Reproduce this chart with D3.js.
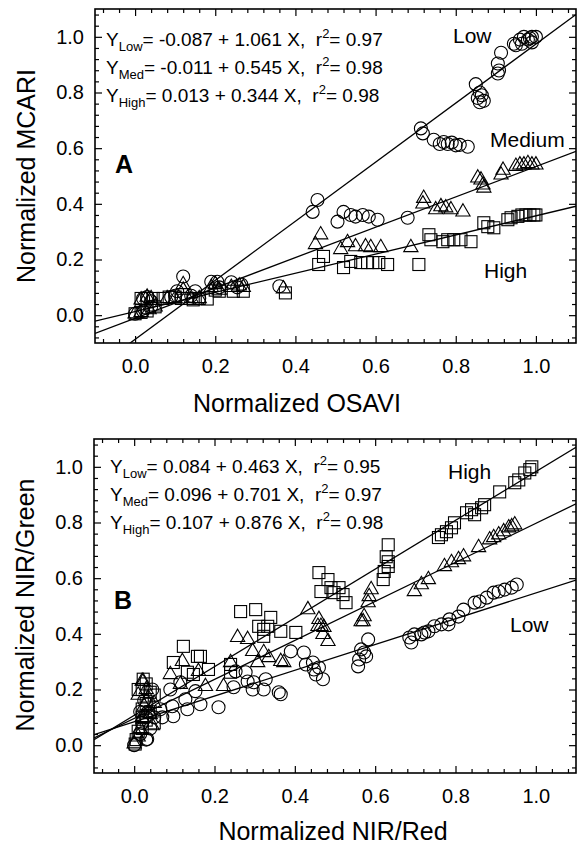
<!DOCTYPE html>
<html>
<head>
<meta charset="utf-8">
<script src="https://cdn.jsdelivr.net/npm/d3@7"></script>
<style>
  body { margin: 0; background: #fff; }
  svg text { font-family: "Liberation Sans", Arial, Helvetica, sans-serif; fill: #000; white-space: pre; }
</style>
</head>
<body>
<svg id="chart" width="580" height="848"></svg>
<script>
// ---- data ----
const majorTicks = [0, 0.2, 0.4, 0.6, 0.8, 1.0];
const groupNames = ["Low", "Med", "High"];

// panel A: normalized OSAVI vs normalized MCARI
const aIntercepts = [-0.087, -0.011, 0.013];
const aSlopes = [1.061, 0.545, 0.344];
const aR2 = [0.97, 0.98, 0.98];

const aLow = [
  [0.0,0.005],[0.02,0.015],[0.04,0.03],[0.02,0.06],[0.03,0.065],[0.04,0.05],[0.09,0.065],[0.1,0.07],
  [0.105,0.086],[0.12,0.139],[0.15,0.086],[0.14,0.07],[0.16,0.06],[0.19,0.12],[0.205,0.12],[0.21,0.1],
  [0.24,0.118],[0.265,0.11],[0.255,0.1],[0.36,0.104],
  [0.455,0.414],[0.443,0.371],[0.505,0.336],[0.52,0.371],[0.538,0.36],[0.55,0.354],[0.568,0.36],
  [0.583,0.354],[0.605,0.343],[0.68,0.35],
  [0.713,0.671],[0.718,0.653],[0.745,0.63],[0.76,0.615],[0.77,0.622],[0.78,0.615],[0.79,0.62],
  [0.80,0.61],[0.81,0.612],[0.83,0.605],
  [0.85,0.83],[0.86,0.80],[0.855,0.78],[0.865,0.79],[0.87,0.77],[0.86,0.765],
  [0.913,0.943],[0.905,0.904],[0.908,0.879],[0.905,0.868],
  [0.945,0.975],[0.95,0.97],[0.96,0.99],[0.965,0.975],[0.97,1.0],[0.98,0.99],[0.985,0.995],
  [0.99,1.0],[1.0,1.0],[0.99,0.98]
];
const aMed = [
  [0.015,0.055],[0.03,0.065],[0.04,0.06],[0.0,0.005],[0.015,0.01],[0.035,0.02],[0.05,0.03],[0.08,0.06],
  [0.1,0.06],[0.12,0.11],[0.12,0.09],[0.14,0.06],[0.16,0.06],[0.19,0.1],[0.2,0.11],[0.21,0.09],
  [0.24,0.1],[0.26,0.105],[0.27,0.1],[0.37,0.095],
  [0.463,0.289],[0.45,0.254],[0.53,0.261],[0.513,0.236],[0.55,0.246],[0.575,0.246],[0.588,0.243],
  [0.613,0.243],[0.688,0.243],
  [0.72,0.42],[0.718,0.40],[0.75,0.379],[0.763,0.39],[0.775,0.386],[0.788,0.379],[0.818,0.371],
  [0.855,0.493],[0.868,0.468],[0.87,0.457],[0.863,0.486],[0.918,0.521],[0.913,0.504],
  [0.95,0.535],[0.96,0.54],[0.97,0.54],[0.98,0.545],[0.99,0.54],[1.0,0.54]
];
const aHigh = [
  [0.015,0.06],[0.03,0.06],[0.045,0.06],[0.0,0.005],[0.015,0.01],[0.03,0.015],[0.05,0.03],
  [0.07,0.06],[0.085,0.065],[0.1,0.065],[0.115,0.06],[0.13,0.06],[0.145,0.055],[0.16,0.06],
  [0.18,0.058],[0.2,0.09],[0.21,0.086],[0.245,0.086],[0.27,0.086],[0.375,0.08],
  [0.458,0.182],[0.47,0.211],[0.52,0.171],[0.538,0.193],[0.563,0.189],[0.58,0.189],[0.593,0.189],
  [0.608,0.189],[0.63,0.182],[0.708,0.182],
  [0.733,0.289],[0.738,0.271],[0.768,0.264],[0.78,0.271],[0.795,0.271],[0.813,0.271],[0.838,0.264],
  [0.87,0.332],[0.88,0.318],[0.895,0.314],[0.93,0.343],[0.938,0.35],
  [0.955,0.355],[0.965,0.36],[0.975,0.36],[0.985,0.36],[0.995,0.36],[1.0,0.36]
];

// panel B: normalized NIR/Red vs normalized NIR/Green
const bIntercepts = [0.084, 0.096, 0.107];
const bSlopes = [0.463, 0.701, 0.876];
const bR2 = [0.95, 0.97, 0.98];

const bLow = [
  [0.0,0.0],[0.015,0.04],[0.03,0.02],[0.02,0.08],[0.035,0.12],[0.025,0.16],[0.04,0.06],[0.05,0.1],
  [0.045,0.2],[0.03,0.1],[0.015,0.12],[0.0325,0.022],
  [0.065,0.129],[0.07,0.1],[0.0975,0.104],[0.095,0.14],[0.09,0.2],[0.115,0.226],[0.1275,0.165],
  [0.1325,0.129],[0.1525,0.194],[0.165,0.147],[0.21,0.136],[0.2475,0.208],[0.2525,0.265],
  [0.2775,0.262],[0.2825,0.229],[0.2975,0.226],[0.295,0.2],[0.3225,0.2],[0.3275,0.237],[0.36,0.19],
  [0.365,0.183],[0.39,0.337],
  [0.4225,0.333],[0.4275,0.29],[0.445,0.297],[0.4475,0.272],[0.46,0.279],[0.4525,0.254],[0.47,0.237],
  [0.5825,0.38],[0.565,0.344],[0.5725,0.333],[0.56,0.308],[0.5575,0.283],[0.5775,0.319],
  [0.685,0.387],[0.69,0.369],[0.6975,0.398],[0.715,0.398],[0.7225,0.405],[0.7325,0.409],
  [0.7475,0.427],[0.765,0.434],[0.7825,0.434],[0.785,0.452],[0.8075,0.462],[0.82,0.487],
  [0.8475,0.512],[0.86,0.516],[0.8775,0.53],[0.895,0.548],[0.9075,0.552],[0.9225,0.559],
  [0.94,0.566],[0.9525,0.577]
];
const bMed = [
  [0.0,0.005],[0.01,0.03],[0.015,0.06],[0.02,0.1],[0.025,0.14],[0.03,0.2],[0.02,0.23],[0.035,0.17],
  [0.04,0.11],[0.045,0.07],[0.05,0.15],[0.01,0.18],[0.0225,0.229],
  [0.09,0.254],[0.12,0.301],[0.115,0.219],[0.16,0.265],[0.1775,0.211],[0.2225,0.211],[0.24,0.297],
  [0.2575,0.387],[0.2825,0.38],[0.295,0.337],[0.3075,0.297],[0.3225,0.333],[0.335,0.315],
  [0.3725,0.297],[0.365,0.301],
  [0.4325,0.487],[0.46,0.452],[0.465,0.427],[0.4725,0.423],[0.4575,0.427],[0.47,0.398],[0.4825,0.373],
  [0.59,0.559],[0.585,0.534],[0.5825,0.512],[0.5725,0.462],[0.57,0.444],[0.565,0.444],
  [0.6975,0.552],[0.715,0.577],[0.7325,0.595],[0.7725,0.642],[0.79,0.656],[0.8075,0.667],
  [0.82,0.677],[0.8575,0.71],[0.885,0.738],[0.895,0.746],[0.9075,0.756],[0.92,0.767],
  [0.9325,0.781],[0.94,0.785],[0.9475,0.792]
];
const bHigh = [
  [0.0025,0.004],[0.005,0.02],[0.01,0.05],[0.02,0.1],[0.01,0.2],[0.02,0.2],[0.03,0.22],[0.04,0.19],
  [0.05,0.18],[0.03,0.15],[0.02,0.13],[0.04,0.12],[0.03,0.09],[0.05,0.08],[0.02,0.06],[0.0225,0.237],
  [0.0975,0.297],[0.1225,0.355],[0.1325,0.262],[0.1475,0.254],[0.1575,0.319],[0.165,0.319],
  [0.185,0.272],[0.24,0.29],[0.24,0.262],
  [0.265,0.48],[0.3025,0.487],[0.34,0.459],[0.31,0.427],[0.3225,0.416],[0.3325,0.427],
  [0.3225,0.391],[0.365,0.409],[0.4025,0.405],
  [0.46,0.62],[0.4825,0.595],[0.465,0.552],[0.49,0.566],[0.4975,0.548],[0.51,0.566],[0.52,0.541],
  [0.5275,0.512],
  [0.6325,0.72],[0.6275,0.677],[0.6325,0.659],[0.6325,0.642],[0.6225,0.624],[0.62,0.595],
  [0.7575,0.746],[0.765,0.756],[0.7775,0.767],[0.79,0.781],[0.7975,0.799],[0.8275,0.835],
  [0.8475,0.828],[0.84,0.846],[0.865,0.853],[0.8725,0.864],[0.91,0.91],[0.9475,0.943],
  [0.9575,0.953],[0.9725,0.978],[0.985,0.99],[0.99,1.0]
];

// ---- drawing ----
const svg = d3.select("#chart");
const domain = [-0.1, 1.1];
const minorTicks = d3.range(-8, 111, 4).map(v => v / 100).filter(v => majorTicks.indexOf(v) < 0);

function drawPanel(cfg) {
  const x = d3.scaleLinear().domain(domain).range([cfg.left, cfg.right]);
  const y = d3.scaleLinear().domain(domain).range([cfg.bottom, cfg.top]);
  const g = svg.append("g");

  const clipId = "clip" + cfg.tag;
  svg.append("clipPath").attr("id", clipId)
     .append("rect")
     .attr("x", cfg.left).attr("y", cfg.top)
     .attr("width", cfg.right - cfg.left).attr("height", cfg.bottom - cfg.top);

  // axes with inward ticks on all four sides
  const sides = [
    { axis: d3.axisBottom(x), t: `translate(0,${cfg.bottom})`, pad: 16 },
    { axis: d3.axisLeft(y), t: `translate(${cfg.left},0)`, pad: 11 },
    { axis: d3.axisTop(x), t: `translate(0,${cfg.top})`, pad: 0 },
    { axis: d3.axisRight(y), t: `translate(${cfg.right},0)`, pad: 0 }
  ];
  sides.forEach(s => {
    const major = s.axis.tickValues(majorTicks).tickSize(-7).tickSizeOuter(0).tickPadding(s.pad)
                    .tickFormat(s.pad ? d3.format(".1f") : "");
    const ga = g.append("g").attr("transform", s.t).call(major);
    ga.select(".domain").remove();
    ga.selectAll("text").style("font-size", "20px").attr("fill", "#000");
    ga.selectAll("line").attr("stroke", "#000").attr("stroke-width", 1.2);

    const minor = s.axis.tickValues(minorTicks).tickSize(-4).tickFormat("");
    const gm = g.append("g").attr("transform", s.t).call(minor);
    gm.select(".domain").remove();
    gm.selectAll("line").attr("stroke", "#000").attr("stroke-width", 1.2);
  });

  g.append("rect")
   .attr("x", cfg.left).attr("y", cfg.top)
   .attr("width", cfg.right - cfg.left).attr("height", cfg.bottom - cfg.top)
   .attr("fill", "none").attr("stroke", "#000").attr("stroke-width", 1.6);

  // regression lines
  const line = d3.line().x(d => x(d[0])).y(d => y(d[1]));
  const lines = g.append("g").attr("clip-path", `url(#${clipId})`);
  cfg.intercepts.forEach((b, i) => {
    const m = cfg.slopes[i];
    lines.append("path")
         .attr("d", line(domain.map(v => [v, b + m * v])))
         .attr("fill", "none").attr("stroke", "#000").attr("stroke-width", 1.3);
  });

  // markers
  const marks = g.append("g").attr("clip-path", `url(#${clipId})`)
                 .attr("fill", "none").attr("stroke", "#000").attr("stroke-width", 1.1);
  marks.selectAll(".low").data(cfg.low).enter().append("circle")
       .attr("cx", d => x(d[0])).attr("cy", d => y(d[1])).attr("r", 6.5);
  marks.selectAll(".med").data(cfg.med).enter().append("path")
       .attr("d", d3.symbol(d3.symbolTriangle, 88))
       .attr("transform", d => `translate(${x(d[0])},${y(d[1])})`);
  marks.selectAll(".high").data(cfg.high).enter().append("rect")
       .attr("x", d => x(d[0]) - 6).attr("y", d => y(d[1]) - 6)
       .attr("width", 12).attr("height", 12);

  // equations
  cfg.intercepts.forEach((b, i) => {
    const t = g.append("text")
               .attr("x", cfg.eqX).attr("y", cfg.eqY + i * 28)
               .style("font-size", "19px");
    const sign = b < 0 ? "-" : "";
    t.append("tspan").text("Y");
    t.append("tspan").text(groupNames[i]).style("font-size", "13px").attr("dy", 5);
    t.append("tspan").text(`= ${sign}${Math.abs(b).toFixed(3)} + ${cfg.slopes[i].toFixed(3)} X,  r`).attr("dy", -5);
    t.append("tspan").text("2").style("font-size", "13px").attr("dy", -8);
    t.append("tspan").text(`= ${cfg.r2[i].toFixed(2)}`).attr("dy", 8);
  });

  // group labels and panel letter
  cfg.tags.forEach(l => {
    g.append("text").attr("x", l[1]).attr("y", l[2]).style("font-size", "21px").text(l[0]);
  });
  g.append("text").attr("x", cfg.left + 20).attr("y", cfg.letterY)
   .style("font-size", "25px").style("font-weight", "bold").text(cfg.tag);

  // axis titles
  g.append("text").attr("x", cfg.xTitle[0]).attr("y", cfg.xTitle[1])
   .attr("text-anchor", "middle").style("font-size", "25px").text(cfg.xLabel);
  g.append("text").attr("transform", `translate(${cfg.yTitle[0]},${cfg.yTitle[1]}) rotate(-90)`)
   .attr("text-anchor", "middle").style("font-size", "25px").text(cfg.yLabel);
}

drawPanel({
  tag: "A", left: 95, right: 576, top: 9, bottom: 343,
  low: aLow, med: aMed, high: aHigh,
  intercepts: aIntercepts, slopes: aSlopes, r2: aR2,
  eqX: 106, eqY: 46, letterY: 173,
  tags: [["Low", 453, 43], ["Medium", 490, 147], ["High", 484, 278]],
  xLabel: "Normalized OSAVI", xTitle: [297, 412],
  yLabel: "Normalized MCARI", yTitle: [35, 176]
});

drawPanel({
  tag: "B", left: 94, right: 576, top: 439, bottom: 773,
  low: bLow, med: bMed, high: bHigh,
  intercepts: bIntercepts, slopes: bSlopes, r2: bR2,
  eqX: 110, eqY: 473, letterY: 609,
  tags: [["High", 448, 479], ["Low", 510, 632]],
  xLabel: "Normalized NIR/Red", xTitle: [333, 840],
  yLabel: "Normalized NIR/Green", yTitle: [34, 605]
});
</script>
</body>
</html>
